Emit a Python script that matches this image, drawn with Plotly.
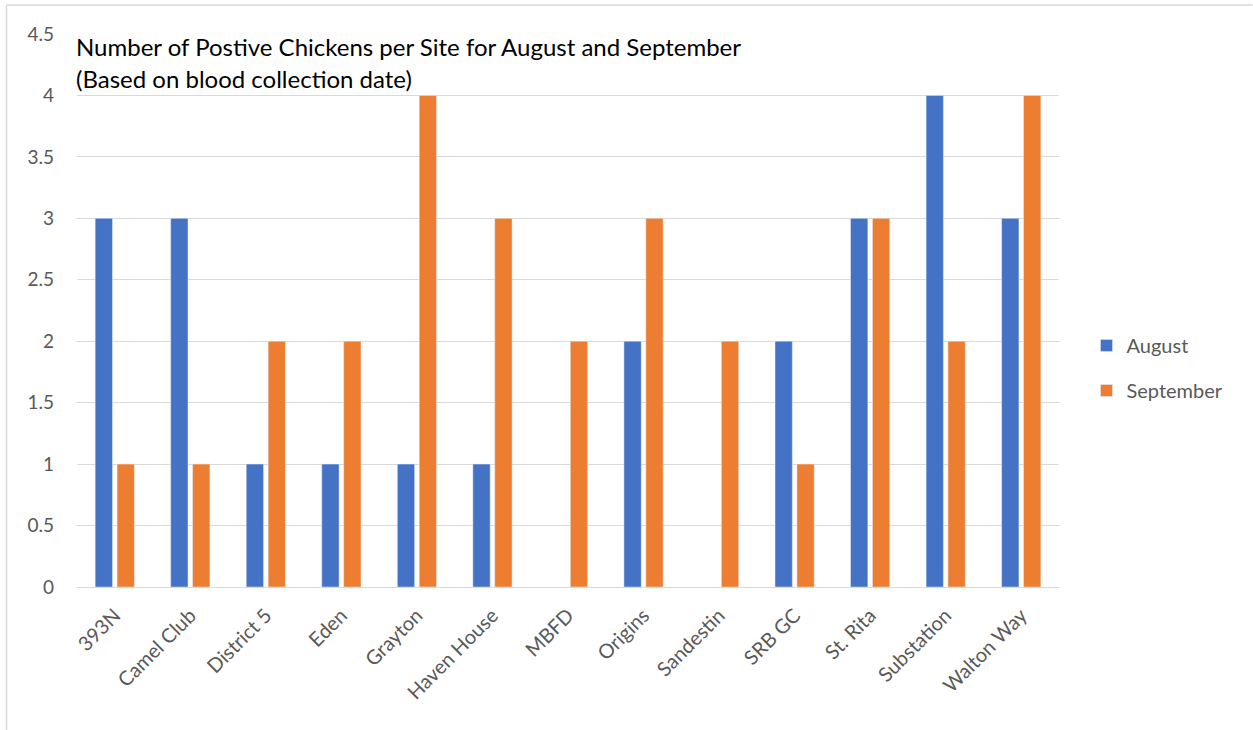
import plotly.graph_objects as go

sites = ["393N", "Camel Club", "District 5", "Eden", "Grayton", "Haven House", "MBFD",
         "Origins", "Sandestin", "SRB GC", "St. Rita", "Substation", "Walton Way"]
august = [3, 3, 1, 1, 1, 1, None, 2, None, 2, 3, 4, 3]
september = [1, 1, 2, 2, 4, 3, 2, 3, 2, 1, 3, 2, 4]
y_ticks = [0, 0.5, 1, 1.5, 2, 2.5, 3, 3.5, 4, 4.5]
y_tick_text = ["0", "0.5", "1", "1.5", "2", "2.5", "3", "3.5", "4", "4.5"]
title_lines = ["Number of Postive Chickens per Site for August and September",
               "(Based on blood collection date)"]

FONT = "Lato"
GRAY = "#595959"

fig = go.Figure()
fig.add_trace(go.Bar(name="August", x=sites, y=august, marker_color="#4472C4",
                     legendgroup="a"))
fig.add_trace(go.Bar(name="September", x=sites, y=september, marker_color="#ED7D31",
                     legendgroup="b"))

fig.update_layout(
    width=1253, height=730,
    margin=dict(l=77, r=194, t=34, b=143),
    paper_bgcolor="white", plot_bgcolor="white",
    barmode="group", bargap=0.42, bargroupgap=0.21,
    font=dict(family=FONT, color=GRAY, size=19),
    legend=dict(x=1.028, y=0.396, xanchor="left", yanchor="middle",
                font=dict(size=20, color=GRAY), tracegroupgap=16,
                traceorder="grouped", itemwidth=30),
    showlegend=True,
)
fig.update_xaxes(showgrid=False, showline=True, linecolor="#d9d9d9", linewidth=1,
                 tickangle=-45, ticks="", tickfont=dict(size=20, color=GRAY),
                 ticklabelstandoff=8)
fig.update_yaxes(range=[0, 4.5], tickvals=y_ticks, ticktext=y_tick_text,
                 showgrid=True, gridcolor="#d9d9d9", gridwidth=1, zeroline=False,
                 showline=False, tickfont=dict(size=19, color=GRAY),
                 ticklabelstandoff=22)

# Title lines inside plot area
for i, line in enumerate(title_lines):
    fig.add_annotation(text=line, xref="paper", yref="paper",
                       x=-3 / 982, y=(587 - 47 - i * 31) / 553,
                       xanchor="left", yanchor="middle", showarrow=False,
                       font=dict(family=FONT, size=24, color="#000000"))

# Chart border (top and left)
fig.add_shape(type="line", xref="paper", yref="paper",
              x0=(6.5 - 77) / 982, x1=(1252.5 - 77) / 982,
              y0=(587 - 5) / 553, y1=(587 - 5) / 553,
              line=dict(color="#d9d9d9", width=1.5))
fig.add_shape(type="line", xref="paper", yref="paper",
              x0=(6.5 - 77) / 982, x1=(6.5 - 77) / 982,
              y0=(587 - 5) / 553, y1=(587 - 732) / 553,
              line=dict(color="#d9d9d9", width=1.5))

fig.write_html("out.html", config={"displayModeBar": False},
               post_script="document.body.style.margin='0';")
